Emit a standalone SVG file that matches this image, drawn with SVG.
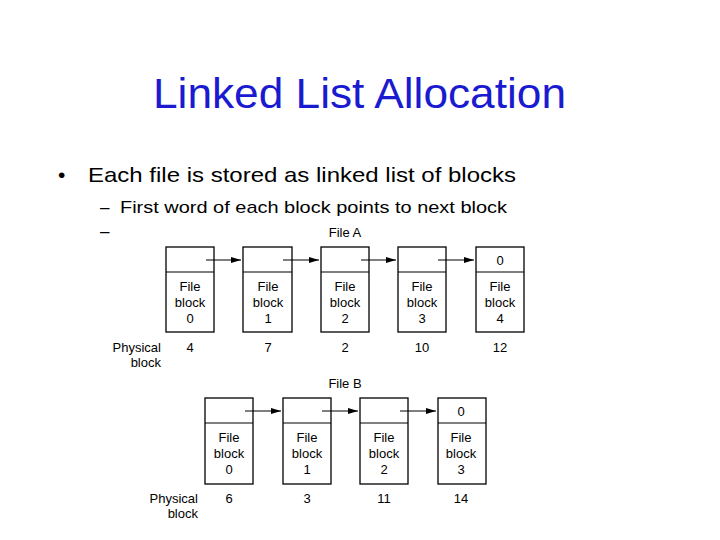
<svg xmlns="http://www.w3.org/2000/svg" width="720" height="540" viewBox="0 0 720 540">
<style>
.t{font-family:"Liberation Sans",Arial,sans-serif;fill:#000}
.s{font-size:13px;text-anchor:middle}
.b{fill:#fff;stroke:#000;stroke-width:1.3}
.c{stroke:#000;stroke-width:1.2;fill:none}
</style>
<defs><marker id="ar" markerWidth="10" markerHeight="8" refX="10" refY="4" orient="auto" markerUnits="userSpaceOnUse"><path d="M0,1 L10,4 L0,7 Z" fill="#000"/></marker></defs>
<rect width="720" height="540" fill="#fff"/>
<text x="153" y="108" font-family="Liberation Sans,Arial,sans-serif" font-size="42" fill="#1a1ad0" textLength="413" lengthAdjust="spacingAndGlyphs">Linked List Allocation</text>
<text class="t" x="58" y="182" font-size="21">•</text>
<text class="t" x="88" y="182" font-size="21" textLength="428" lengthAdjust="spacingAndGlyphs">Each file is stored as linked list of blocks</text>
<text class="t" x="100" y="213" font-size="17">–</text>
<text class="t" x="120" y="213" font-size="17" textLength="387" lengthAdjust="spacingAndGlyphs">First word of each block points to next block</text>
<text class="t" x="100" y="237" font-size="17">–</text>
<text class="t s" x="345" y="237">File A</text>
<g id="A0"><rect class="b" x="166" y="247" width="48" height="85"/><line class="c" x1="166" y1="272" x2="214" y2="272"/><text class="t s" x="190" y="291">File</text><text class="t s" x="190" y="307">block</text><text class="t s" x="190" y="323">0</text></g>
<g id="A1"><rect class="b" x="243" y="247" width="49" height="85"/><line class="c" x1="243" y1="272" x2="292" y2="272"/><text class="t s" x="268" y="291">File</text><text class="t s" x="268" y="307">block</text><text class="t s" x="268" y="323">1</text></g>
<g id="A2"><rect class="b" x="321" y="247" width="48" height="85"/><line class="c" x1="321" y1="272" x2="369" y2="272"/><text class="t s" x="345" y="291">File</text><text class="t s" x="345" y="307">block</text><text class="t s" x="345" y="323">2</text></g>
<g id="A3"><rect class="b" x="398" y="247" width="48" height="85"/><line class="c" x1="398" y1="272" x2="446" y2="272"/><text class="t s" x="422" y="291">File</text><text class="t s" x="422" y="307">block</text><text class="t s" x="422" y="323">3</text></g>
<g id="A4"><rect class="b" x="476" y="247" width="48" height="85"/><line class="c" x1="476" y1="272" x2="524" y2="272"/><text class="t s" x="500" y="265">0</text><text class="t s" x="500" y="291">File</text><text class="t s" x="500" y="307">block</text><text class="t s" x="500" y="323">4</text></g>
<text class="t" x="161" y="352" font-size="13" text-anchor="end">Physical</text>
<text class="t" x="161" y="367" font-size="13" text-anchor="end">block</text>
<text class="t s" x="190" y="352">4</text><text class="t s" x="268" y="352">7</text><text class="t s" x="345" y="352">2</text><text class="t s" x="422" y="352">10</text><text class="t s" x="500" y="352">12</text>
<text class="t s" x="345" y="388">File B</text>
<g id="B0"><rect class="b" x="205" y="398" width="48" height="86"/><line class="c" x1="205" y1="423" x2="253" y2="423"/><text class="t s" x="229" y="442">File</text><text class="t s" x="229" y="458">block</text><text class="t s" x="229" y="474">0</text></g>
<g id="B1"><rect class="b" x="283" y="398" width="48" height="86"/><line class="c" x1="283" y1="423" x2="331" y2="423"/><text class="t s" x="307" y="442">File</text><text class="t s" x="307" y="458">block</text><text class="t s" x="307" y="474">1</text></g>
<g id="B2"><rect class="b" x="360" y="398" width="48" height="86"/><line class="c" x1="360" y1="423" x2="408" y2="423"/><text class="t s" x="384" y="442">File</text><text class="t s" x="384" y="458">block</text><text class="t s" x="384" y="474">2</text></g>
<g id="B3"><rect class="b" x="438" y="398" width="48" height="86"/><line class="c" x1="438" y1="423" x2="486" y2="423"/><text class="t s" x="461" y="416">0</text><text class="t s" x="461" y="442">File</text><text class="t s" x="461" y="458">block</text><text class="t s" x="461" y="474">3</text></g>
<text class="t" x="198" y="503" font-size="13" text-anchor="end">Physical</text>
<text class="t" x="198" y="518" font-size="13" text-anchor="end">block</text>
<text class="t s" x="229" y="503">6</text><text class="t s" x="307" y="503">3</text><text class="t s" x="384" y="503">11</text><text class="t s" x="461" y="503">14</text>
<g id="connectors">
<line class="c" x1="206" y1="260" x2="241" y2="260" marker-end="url(#ar)"/>
<line class="c" x1="283" y1="260" x2="319" y2="260" marker-end="url(#ar)"/>
<line class="c" x1="361" y1="260" x2="396" y2="260" marker-end="url(#ar)"/>
<line class="c" x1="438" y1="260" x2="474" y2="260" marker-end="url(#ar)"/>
<line class="c" x1="245" y1="411" x2="281" y2="411" marker-end="url(#ar)"/>
<line class="c" x1="322" y1="411" x2="358" y2="411" marker-end="url(#ar)"/>
<line class="c" x1="400" y1="411" x2="436" y2="411" marker-end="url(#ar)"/>
</g>
</svg>
